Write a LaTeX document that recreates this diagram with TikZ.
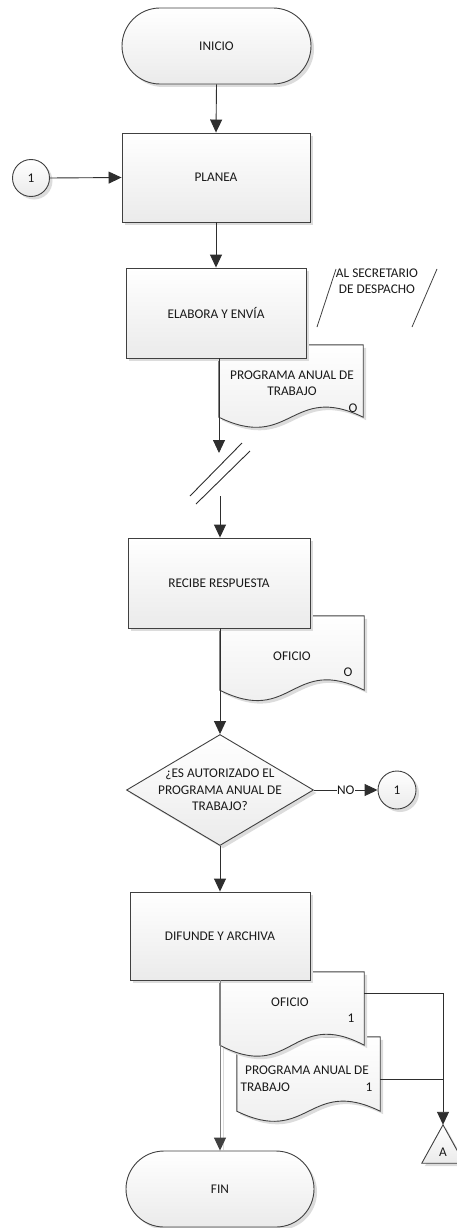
\documentclass[tikz,border=0pt]{standalone}
\usepackage{fontspec}
\setmainfont{Carlito}
\usetikzlibrary{arrows.meta,shapes.geometric,shadows,calc}
\definecolor{edge}{HTML}{404040}
\definecolor{wire}{HTML}{2E2E2E}
\definecolor{shadowgray}{HTML}{DCDCDC}

% document symbol with a wavy bottom edge, drawn over a named placeholder node
% #1 = placeholder node, #2 = control offset of the wave
\newcommand\wavedoc[2]{%
  \draw[docstyle] (#1.north west) -- (#1.north east) -- (#1.south east)
    .. controls ($(#1.south)+(0,-#2)$) and ($(#1.south)+(0,#2)$) .. (#1.south west) -- cycle;}

\begin{document}
\begin{tikzpicture}[x=1pt,y=-1pt,
  font=\fontsize{13.3}{16.5}\selectfont,
  every node/.style={text=black!90},
  filled/.style={draw=edge, line width=0.9pt, top color=white, bottom color=black!8,
    drop shadow={shadow xshift=3pt, shadow yshift=-3pt, fill=shadowgray, opacity=1}},
  process/.style={filled, rectangle, inner sep=0pt},
  terminal/.style={filled, rectangle, rounded corners=38pt, inner sep=0pt},
  connector/.style={filled, circle, inner sep=0pt, minimum size=37pt},
  decision/.style={filled, diamond, inner sep=0pt},
  docstyle/.style={filled},
  holder/.style={draw=none, inner sep=0pt},
  flow/.style={draw=wire, line width=0.9pt, -{Triangle[length=13pt,width=12pt]}},
  plain/.style={draw=wire, line width=0.9pt},
]
\useasboundingbox (0,0) rectangle (456,1228);

% faint shadow of the last connector
\draw[shadowgray, line width=0.8pt] (223,982) -- (223,1150);

% ---------- documents (the process boxes overlap their corners) ----------
\node[holder, minimum width=144pt, minimum height=72pt] (doc1) at (291,381) {};
\wavedoc{doc1}{35}
\node[align=center] (doc1t) at (292,383) {PROGRAMA ANUAL DE\\TRABAJO};
\node (doc1o) at (353,408) {O};

\node[holder, minimum width=144pt, minimum height=74pt] (doc2) at (292,653) {};
\wavedoc{doc2}{36}
\node (doc2t) at (292,656) {OFICIO};
\node (doc2o) at (348,672) {O};

% the second document lies under the first one
\node[holder, minimum width=143pt, minimum height=74pt] (doc4) at (308.5,1074) {};
\wavedoc{doc4}{35}
\node (doc4t) at (307,1070) {PROGRAMA ANUAL DE};
\node[anchor=west] (doc4l) at (237,1087) {TRABAJO};
\node (doc4n) at (369,1087) {1};

\node[holder, minimum width=144pt, minimum height=73pt] (doc3) at (292,1008.5) {};
\wavedoc{doc3}{38}
\node (doc3t) at (290,1002) {OFICIO};
\node (doc3n) at (351,1018) {1};

% ---------- main shapes ----------
\node[terminal, minimum width=189pt, minimum height=76pt] (inicio) at (216.5,46) {INICIO};
\node[process, minimum width=188pt, minimum height=89pt] (planea) at (216,177.5) {PLANEA};
\node[connector] (c1) at (31,178) {1};
\node[process, minimum width=180pt, minimum height=90pt] (elabora) at (216,313) {ELABORA Y ENVÍA};

% recipient note with slanted sides
\node[align=center] (sec) at (377,281) {AL SECRETARIO\\DE DESPACHO};
\draw[edge, line width=0.8pt] (336,269) -- (317,327);
\draw[edge, line width=0.8pt] (437,269) -- (412,327);

\node[process, minimum width=182pt, minimum height=90pt] (recibe) at (219,583) {RECIBE RESPUESTA};

\node[decision, minimum width=187pt, minimum height=111pt] (dec) at (220,790) {};
\node[align=center] (dect) at (220,790) {¿ES AUTORIZADO EL\\PROGRAMA ANUAL DE\\TRABAJO?};
\node[connector, minimum size=38pt] (c2) at (397,790) {1};

\node[process, minimum width=180pt, minimum height=88pt] (difunde) at (220,936) {DIFUNDE Y ARCHIVA};

\node[holder, minimum width=42pt, minimum height=38pt] (triA) at (443,1144) {};
\draw[filled] (triA.north) -- (triA.south east) -- (triA.south west) -- cycle;
\node (triAt) at (443,1152) {A};

\node[terminal, minimum width=188pt, minimum height=76pt] (fin) at (220,1189) {FIN};

% ---------- break mark ----------
\coordinate (brk1) at (219,453);
\coordinate (brk2) at (220,496);
\coordinate (s1a) at (242,443);
\coordinate (s1b) at (190,496);
\coordinate (s2a) at (250,451);
\coordinate (s2b) at (196,504);
\draw[plain] (s1a) -- (s1b);
\draw[plain] (s2a) -- (s2b);

% ---------- connectors ----------
\draw[flow] (inicio.south) -- (planea.north);
\draw[flow] (c1.east) -- (planea.west);
\draw[flow] (planea.south) -- (elabora.north);
\draw[flow] (elabora.south -| brk1) -- (brk1);
\draw[flow] (brk2) -- (brk2 |- recibe.north);
\draw[flow] (recibe.south -| dec.north) -- (dec.north);
\draw[flow] (dec.east) -- node[fill=white, inner sep=0.5pt] (no) {NO} (c2.west);
\draw[flow] (dec.south) -- (difunde.north);
\draw[draw=black!50, line width=0.9pt, -{Triangle[length=13pt,width=12pt,color=black!75]}]
  (difunde.south) -- (fin.north);

\coordinate (j1) at (443,993);
\coordinate (j2) at (443,1079);
\draw[flow] (doc3.east |- j1) -- (j1) -- (triA.north);
\draw[plain] (doc4.east |- j2) -- (j2);
\end{tikzpicture}
\end{document}
